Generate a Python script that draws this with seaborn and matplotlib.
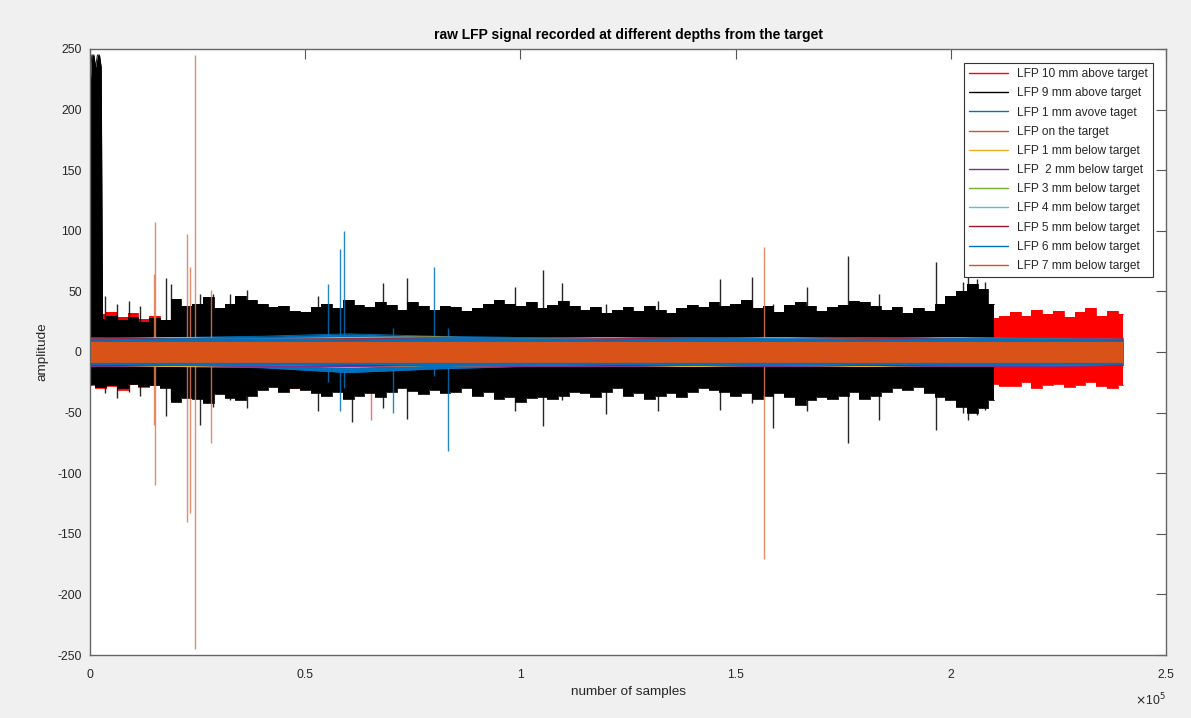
import matplotlib
matplotlib.use('Agg')
import matplotlib.pyplot as plt
from matplotlib.lines import Line2D
import seaborn as sns

# legend names and MATLAB-style colours, in plotting order
NAMES = ['LFP 10 mm above target', 'LFP 9 mm above target', 'LFP 1 mm avove taget',
         'LFP on the target', 'LFP 1 mm below target', 'LFP  2 mm below target',
         'LFP 3 mm below target', 'LFP 4 mm below target', 'LFP 5 mm below target',
         'LFP 6 mm below target', 'LFP 7 mm below target']
COLORS = ['#ff0000', '#000000', '#0072bd', '#d95319', '#edb120', '#7e2f8e',
          '#77ac30', '#4dbeee', '#a2142f', '#0072bd', '#d95319']

# envelopes of the two wide channels, read every 2500 samples (x in thousands)
BIN_K = [0, 2.5, 5, 7.5, 10, 12.5, 15, 17.5, 20, 22.5, 25, 27.5, 30, 32.5, 35, 37.5,
         40, 42.5, 45, 47.5, 50, 52.5, 55, 57.5, 60, 62.5, 65, 67.5, 70, 72.5, 75, 77.5,
         80, 82.5, 85, 87.5, 90, 92.5, 95, 97.5, 100, 102.5, 105, 107.5, 110, 112.5, 115, 117.5,
         120, 122.5, 125, 127.5, 130, 132.5, 135, 137.5, 140, 142.5, 145, 147.5, 150, 152.5,
         155, 157.5, 160, 162.5, 165, 167.5, 170, 172.5, 175, 177.5, 180, 182.5, 185, 187.5,
         190, 192.5, 195, 197.5, 200, 202.5, 205, 207.5, 210, 212.5, 215, 217.5, 220, 222.5,
         225, 227.5, 230, 232.5, 235, 237.5, 240]
RED_HI = [28, 31, 33, 29, 32, 27, 30, 26, 28, 25, 27, 24, 29, 26, 27, 30,
          25, 28, 26, 29, 27, 31, 26, 28, 25, 27, 29, 26, 28, 24, 27, 30,
          26, 28, 25, 27, 29, 26, 28, 25, 30, 27, 26, 29, 25, 28, 27, 30,
          26, 28, 24, 27, 29, 26, 28, 25, 27, 30, 26, 28, 27, 29, 26, 28,
          30, 27, 25, 28, 26, 29, 27, 25, 28, 30, 26, 31, 27, 29, 26, 28,
          30, 27, 29, 31, 28, 30, 33, 30, 35, 31, 34, 29, 33, 36, 30, 34,
          31]
RED_LO = [-27, -30, -28, -31, -26, -29, -27, -25, -28, -26, -30, -27, -25, -28, -26, -29,
          -27, -25, -28, -30, -26, -28, -27, -25, -29, -26, -28, -27, -30, -26, -28, -25,
          -27, -29, -26, -28, -25, -27, -30, -26, -28, -27, -25, -29, -26, -28, -27, -30,
          -26, -28, -25, -27, -29, -26, -28, -27, -25, -28, -30, -26, -27, -29, -26, -28,
          -27, -25, -29, -26, -28, -27, -30, -26, -28, -25, -27, -29, -26, -28, -27, -30,
          -26, -28, -27, -29, -26, -28, -28, -25, -30, -27, -26, -29, -27, -25, -28, -30,
          -27]
BLACK_HI = [38, 27, 30, 26, 29, 25, 28, 26, 44, 38, 40, 45, 36, 40, 46, 43,
            40, 37, 38, 34, 33, 37, 40, 36, 43, 39, 37, 41, 39, 35, 41, 38,
            35, 38, 37, 34, 36, 40, 43, 40, 38, 41, 36, 39, 42, 38, 35, 37,
            32, 35, 37, 34, 38, 35, 32, 36, 39, 37, 41, 38, 40, 43, 36, 38,
            33, 39, 41, 38, 34, 37, 39, 42, 41, 38, 35, 37, 32, 36, 34, 40,
            46, 50, 56, 52, 40]
BLACK_LO = [-26, -29, -27, -30, -26, -28, -27, -30, -41, -38, -39, -42, -35, -38, -40, -36,
            -31, -29, -33, -30, -31, -34, -36, -33, -39, -36, -34, -37, -33, -30, -32, -35,
            -31, -34, -33, -30, -36, -33, -39, -37, -41, -38, -37, -39, -36, -33, -34, -37,
            -33, -30, -36, -34, -39, -36, -34, -37, -33, -30, -31, -33, -36, -34, -39, -36,
            -34, -37, -44, -40, -37, -39, -36, -33, -39, -36, -33, -30, -31, -29, -34, -37,
            -40, -45, -50, -46, -40]
# saturated block at the very start of the 9 mm recording
BLACK_START_X = [0, 400, 900, 1300, 1700, 2200, 2600, 2900]
BLACK_START_HI = [218, 245, 245, 235, 245, 245, 235, 40]
BLACK_START_LO = [-27, -27, -25, -26, -27, -25, -24, -26]

# narrow channels, read every 20000 samples
COARSE_X = [0, 20000, 40000, 60000, 80000, 100000, 120000, 140000, 160000,
            180000, 200000, 220000, 240000]
BLUE1_HI = [11, 12, 13, 15, 13, 12, 11, 12, 11, 12, 11, 12, 11]
BLUE1_LO = [-11, -12, -13, -17, -14, -12, -12, -11, -12, -11, -12, -11, -11]
TARGET_HI = [9, 9, 9, 9, 9, 9, 9, 9, 9, 9, 9, 9, 9]
TARGET_LO = [-9, -9, -9, -9, -9, -9, -9, -9, -9, -9, -9, -9, -9]
YELLOW_HI = [11, 12, 11, 12, 12.5, 11, 12, 11, 12, 11, 12, 11, 11]
YELLOW_LO = [-11, -12, -11, -12.5, -11, -12, -11, -12, -11, -12, -11, -11, -11]
PURPLE_HI = [12, 11, 12, 11, 12, 12, 11, 12, 11, 12, 11, 12, 12]
PURPLE_LO = [-12, -11, -12, -12, -11, -12, -12, -11, -12, -11, -12, -12, -11]
GREEN_HI = [10, 11, 10, 11, 10, 11, 10, 11, 10, 11, 10, 11, 10]
GREEN_LO = [-10, -11, -10, -11, -10, -11, -10, -11, -10, -11, -10, -11, -10]
LBLUE_HI = [11, 10, 11, 10, 11, 10, 11, 10, 11, 10, 11, 10, 11]
LBLUE_LO = [-11, -10, -11, -10, -11, -10, -11, -10, -11, -10, -11, -10, -11]
DRED_HI = [11, 11, 10, 11, 11, 10, 11, 11, 10, 11, 11, 10, 11]
DRED_LO = [-11, -11, -10, -11, -11, -10, -11, -11, -10, -11, -11, -10, -11]
BLUE6_HI = [10, 11, 11, 10, 11, 11, 10, 11, 11, 10, 11, 11, 10]
BLUE6_LO = [-10, -11, -11, -10, -11, -11, -10, -11, -11, -10, -11, -11, -10]
ORANGE7_HI = [8.5, 8.5, 8.5, 8.5, 8.5, 8.5, 8.5, 8.5, 8.5, 8.5, 8.5, 8.5, 8.5]
ORANGE7_LO = [-8.5, -8.5, -8.5, -8.5, -8.5, -8.5, -8.5, -8.5, -8.5, -8.5, -8.5, -8.5, -8.5]

# isolated spikes: sample, top, bottom
TARGET_SPIKE_X = [14900, 15100, 22600, 23300, 24400, 28100, 156500]
TARGET_SPIKE_HI = [64, 107, 97, 70, 245, 51, 87]
TARGET_SPIKE_LO = [-60, -110, -140, -133, -245, -75, -171]
BLUE1_SPIKE_X = [55300, 58100, 59000, 70400, 79900, 83200]
BLUE1_SPIKE_HI = [56, 85, 100, 20, 70, 20]
BLUE1_SPIKE_LO = [-25, -49, -30, -50, -20, -82]
RED_SPIKE_X = [65300]
RED_SPIKE_HI = [25]
RED_SPIKE_LO = [-56]
BLACK_SPIKE_X = [3500, 6200, 9000, 11500, 17700, 18800, 25500, 28600, 32500, 36400,
                 53000, 60900, 68100, 73600, 98700, 105200, 109600, 120000, 132000,
                 146300, 153800, 158700, 166500, 176100, 183300, 196500, 202800,
                 204000, 206000, 208000]
BLACK_SPIKE_HI = [46, 40, 42, 38, 61, 56, 48, 48, 48, 51,
                  46, 40, 57, 61, 54, 68, 57, 40, 42,
                  60, 62, 40, 54, 79, 48, 74, 58,
                  62, 60, 58]
BLACK_SPIKE_LO = [-34, -38, -33, -36, -53, -40, -60, -45, -40, -46,
                  -49, -58, -46, -55, -49, -61, -40, -51, -49,
                  -48, -42, -63, -49, -75, -56, -64, -50,
                  -56, -52, -48]

sns.set_style('white')
plt.rcParams['font.family'] = ['Liberation Sans', 'DejaVu Sans']
plt.rcParams['axes.unicode_minus'] = False
TXT = '#262626'

bin_x = [k * 1000 for k in BIN_K]
black_x = bin_x[:len(BLACK_HI)]

fig = plt.figure(figsize=(11.91, 7.18), dpi=100, facecolor='#f0f0f0')
ax = fig.add_axes([0.0756, 0.0877, 0.9034, 0.8441])
ax.set_facecolor('white')


def draw_band(x, hi, lo, color, z, step=None):
    ax.fill_between(x, lo, hi, color=color, lw=0, step=step, zorder=z)
    ds = 'steps-mid' if step else 'default'
    sns.lineplot(x=x, y=hi, color=color, lw=0.6, ax=ax, legend=False,
                 drawstyle=ds, zorder=z)
    sns.lineplot(x=x, y=lo, color=color, lw=0.6, ax=ax, legend=False,
                 drawstyle=ds, zorder=z)


def draw_spikes(x, hi, lo, color, z, alpha=0.85):
    ax.vlines(x, lo, hi, colors=color, lw=1, alpha=alpha, zorder=z)


# 10 mm above
draw_band(bin_x, RED_HI, RED_LO, COLORS[0], 1, step='mid')
draw_spikes(RED_SPIKE_X, RED_SPIKE_HI, RED_SPIKE_LO, '#ff5050', 1)
# 9 mm above
draw_band(black_x, BLACK_HI, BLACK_LO, COLORS[1], 2, step='mid')
draw_band(BLACK_START_X, BLACK_START_HI, BLACK_START_LO, COLORS[1], 2)
draw_spikes(BLACK_SPIKE_X, BLACK_SPIKE_HI, BLACK_SPIKE_LO, COLORS[1], 2)
# 1 mm above
draw_band(COARSE_X, BLUE1_HI, BLUE1_LO, COLORS[2], 3)
draw_spikes(BLUE1_SPIKE_X, BLUE1_SPIKE_HI, BLUE1_SPIKE_LO, COLORS[2], 3)
# on target
draw_band(COARSE_X, TARGET_HI, TARGET_LO, COLORS[3], 4)
draw_spikes(TARGET_SPIKE_X, TARGET_SPIKE_HI, TARGET_SPIKE_LO, '#e07a50', 4)
# below target
draw_band(COARSE_X, YELLOW_HI, YELLOW_LO, COLORS[4], 5)
draw_band(COARSE_X, PURPLE_HI, PURPLE_LO, COLORS[5], 6)
draw_band(COARSE_X, GREEN_HI, GREEN_LO, COLORS[6], 7)
draw_band(COARSE_X, LBLUE_HI, LBLUE_LO, COLORS[7], 8)
draw_band(COARSE_X, DRED_HI, DRED_LO, COLORS[8], 9)
draw_band(COARSE_X, BLUE6_HI, BLUE6_LO, COLORS[9], 10)
draw_band(COARSE_X, ORANGE7_HI, ORANGE7_LO, COLORS[10], 11)

ax.set_xlim(0, 250000)
ax.set_ylim(-250, 250)
ax.set_xticks([0, 50000, 100000, 150000, 200000, 250000])
ax.set_xticklabels(['0', '0.5', '1', '1.5', '2', '2.5'])
ax.set_yticks(range(-250, 251, 50))
ax.tick_params(direction='in', top=True, right=True, length=7, width=0.8,
               color='#555555', labelcolor=TXT, labelsize=8.8)
ax.tick_params(axis='x', pad=10)
ax.tick_params(axis='y', pad=6)
for sp in ax.spines.values():
    sp.set_color('#666666')
    sp.set_linewidth(1)
    sp.set_zorder(20)

ax.set_title('raw LFP signal recorded at different depths from the target',
             fontsize=10, fontweight='bold', color='black', pad=7)
ax.set_xlabel('number of samples', fontsize=9.7, color=TXT, labelpad=4)
ax.set_ylabel('amplitude', fontsize=9.7, color=TXT, labelpad=6)
ax.text(1.0, -0.075, r'$\times$10$^5$', transform=ax.transAxes, ha='right', va='center',
        fontsize=8.8, color=TXT)

handles = [Line2D([0], [0], color=c, lw=1.0) for c in COLORS]
leg = ax.legend(handles, NAMES, loc='upper right', bbox_to_anchor=(0.988, 0.977),
                borderaxespad=0, fontsize=8.6, handlelength=3.3, labelspacing=0.6,
                borderpad=0.45, handletextpad=0.7, fancybox=False, framealpha=1,
                edgecolor='#333333')
leg.get_frame().set_linewidth(0.8)
leg.set_zorder(30)

fig.savefig('out.png', dpi=100, facecolor=fig.get_facecolor())
